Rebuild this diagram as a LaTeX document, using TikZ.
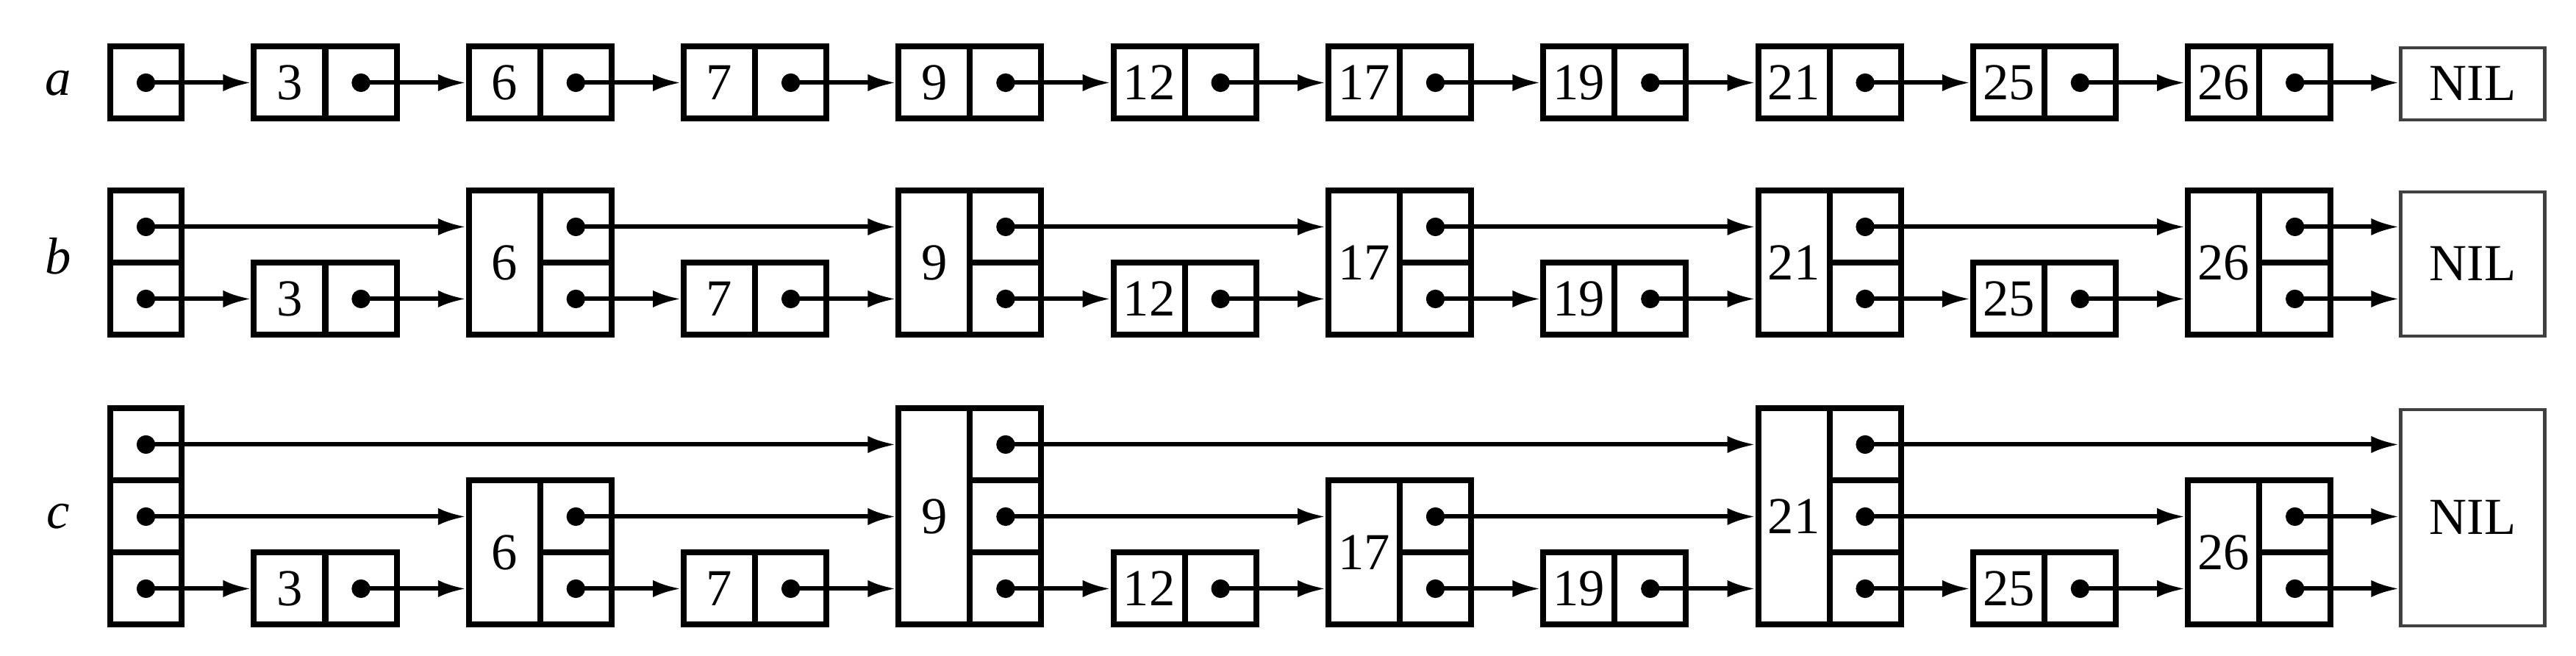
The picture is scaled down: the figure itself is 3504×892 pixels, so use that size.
\documentclass[tikz,border=0pt]{standalone}
\usepackage{fontspec}
\setmainfont{Liberation Serif}
\usetikzlibrary{arrows.meta}

\tikzset{every picture/.style={line width=0.75pt}}
\tikzset{
  every node/.append style={font=\fontsize{10.6}{12.5}\selectfont},
  cell/.style={draw, line width=1.2pt, minimum width=14.55pt, minimum height=14.7pt, inner sep=0pt, anchor=south},
  nilbox/.style={draw=black!75, line width=0.65pt, minimum width=29.4pt, inner sep=0pt, anchor=south},
  ptr/.style={line width=0.9pt, -{Latex[length=5.7pt,width=3.5pt]}},
}

\begin{document}
\begin{tikzpicture}[x=0.15pt,y=0.15pt,yscale=-1,xscale=1]
\useasboundingbox (0,0) rectangle (3504,892);

% Row labels
\node (la) at (79,113) {\textit{a}};
\node (lb) at (79,348) {\textit{b}};
\node (lc) at (79,702) {\textit{c}};

%Shape: header cells
\node [cell] (aH-1) at (198.5,165.5) {};
\foreach \j in {1,2} \node [cell] (bH-\j) at (198.5,{459.5-98*(\j-1)}) {};
\foreach \j in {1,2,3} \node [cell] (cH-\j) at (198.5,{853.5-98*(\j-1)}) {};

%Shape: list a
\foreach \key [count=\i from 0] in {3,6,7,9,12,17,19,21,25,26} {
  \pgfmathsetmacro\kx{394+292.3*\i}
  \pgfmathsetmacro\px{491+292.3*\i}
  \node [cell] (a\key) at (\kx,165.5) {\key};
  \node [cell] (a\key-1) at (\px,165.5) {};
}
\node [nilbox, minimum height=14.7pt] (aNIL) at (3363.5,165) {NIL};

%Shape: list b
\foreach \key/\lv [count=\i from 0] in {3/1,6/2,7/1,9/2,12/1,17/2,19/1,21/2,25/1,26/2} {
  \pgfmathsetmacro\kx{394+292.3*\i}
  \pgfmathsetmacro\px{491+292.3*\i}
  \node [cell, minimum height=\lv*14.7pt] (b\key) at (\kx,459.5) {\key};
  \foreach \j in {1,...,\lv} \node [cell] (b\key-\j) at (\px,{459.5-98*(\j-1)}) {};
}
\node [nilbox, minimum height=29.4pt] (bNIL) at (3363.5,459) {NIL};

%Shape: list c
\foreach \key/\lv [count=\i from 0] in {3/1,6/2,7/1,9/3,12/1,17/2,19/1,21/3,25/1,26/2} {
  \pgfmathsetmacro\kx{394+292.3*\i}
  \pgfmathsetmacro\px{491+292.3*\i}
  \node [cell, minimum height=\lv*14.7pt] (c\key) at (\kx,853.5) {\key};
  \foreach \j in {1,...,\lv} \node [cell] (c\key-\j) at (\px,{853.5-98*(\j-1)}) {};
}
\node [nilbox, minimum height=44.1pt] (cNIL) at (3363.5,853) {NIL};

%Straight Lines: level 1 pointers
\foreach \r in {a,b,c} {
  \foreach \s/\t in {H/3,3/6,6/7,7/9,9/12,12/17,17/19,19/21,21/25,25/26,26/NIL} {
    \fill (\r\s-1.center) circle [radius=1.9pt];
    \draw [ptr] (\r\s-1.center) -- (\r\s-1.center -| \r\t.west);
  }
}
%Straight Lines: level 2 pointers
\foreach \r in {b,c} {
  \foreach \s/\t in {H/6,6/9,9/17,17/21,21/26,26/NIL} {
    \fill (\r\s-2.center) circle [radius=1.9pt];
    \draw [ptr] (\r\s-2.center) -- (\r\s-2.center -| \r\t.west);
  }
}
%Straight Lines: level 3 pointers
\foreach \s/\t in {H/9,9/21,21/NIL} {
  \fill (c\s-3.center) circle [radius=1.9pt];
  \draw [ptr] (c\s-3.center) -- (c\s-3.center -| c\t.west);
}

\end{tikzpicture}
\end{document}
